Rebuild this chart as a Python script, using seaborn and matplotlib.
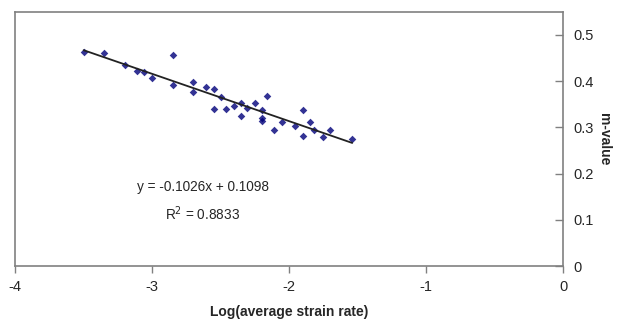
import numpy as np
import pandas as pd
import seaborn as sns
import matplotlib.pyplot as plt

# values
log_rate = [-3.50, -3.35, -2.85, -3.20, -3.11, -3.06, -3.00, -2.85, -2.70, -2.70,
            -2.61, -2.55, -2.50, -2.55, -2.46, -2.40, -2.35, -2.35, -2.31, -2.25,
            -2.20, -2.20, -2.20, -2.16, -2.11, -2.05, -1.96, -1.90, -1.90, -1.85,
            -1.82, -1.75, -1.70, -1.54]
m_value = [0.464, 0.462, 0.457, 0.435, 0.422, 0.419, 0.406, 0.392, 0.399, 0.376,
           0.387, 0.383, 0.365, 0.339, 0.339, 0.347, 0.353, 0.325, 0.341, 0.353,
           0.338, 0.320, 0.315, 0.369, 0.295, 0.312, 0.304, 0.338, 0.282, 0.311,
           0.295, 0.280, 0.295, 0.275]
eq_text = "y = -0.1026x + 0.1098"
r2_text = "R$^2$ = 0.8833"
x_ticks = [-4, -3, -2, -1, 0]
y_ticks = [0, 0.1, 0.2, 0.3, 0.4, 0.5]

df = pd.DataFrame({"log_rate": log_rate, "m_value": m_value})

sns.set_style("white")
plt.rcParams['font.family'] = ['Liberation Sans', 'DejaVu Sans']

fig = plt.figure(figsize=(6.3, 3.29), dpi=100)
ax = fig.add_axes([0.024, 0.191, 0.870, 0.773])

# scatter + least squares line
sns.regplot(data=df, x="log_rate", y="m_value", ax=ax, ci=None,
            marker="D", color="#00007a",
            scatter_kws={"s": 15, "linewidths": 0},
            line_kws={"color": "#222222", "linewidth": 1.3})

ax.set_xlim(-4, 0)
ax.set_ylim(0, 0.55)
ax.set_xticks(x_ticks)
ax.set_xticklabels([str(t) for t in x_ticks])
ax.set_yticks(y_ticks)
ax.set_yticklabels(["0", "0.1", "0.2", "0.3", "0.4", "0.5"])

ax.yaxis.tick_right()
ax.yaxis.set_label_position("right")
ax.tick_params(axis="x", direction="out", length=5, width=1, color="#808080",
               labelsize=10.5, pad=5, bottom=True)
ax.tick_params(axis="y", direction="in", length=6, width=1, color="#808080",
               labelsize=10.5, pad=7, right=True, left=False)

for s in ax.spines.values():
    s.set_color("#808080")
    s.set_linewidth(1.2)

ax.set_xlabel("Log(average strain rate)", fontsize=10, fontweight="bold", labelpad=8)
ax.set_ylabel("m-value", fontsize=10, fontweight="bold", rotation=-90, labelpad=13)

ax.text(-2.63, 0.172, eq_text, ha="center", va="center", fontsize=9.8)
ax.text(-2.63, 0.114, r2_text, ha="center", va="center", fontsize=9.8)

fig.savefig("out.png", dpi=100)
